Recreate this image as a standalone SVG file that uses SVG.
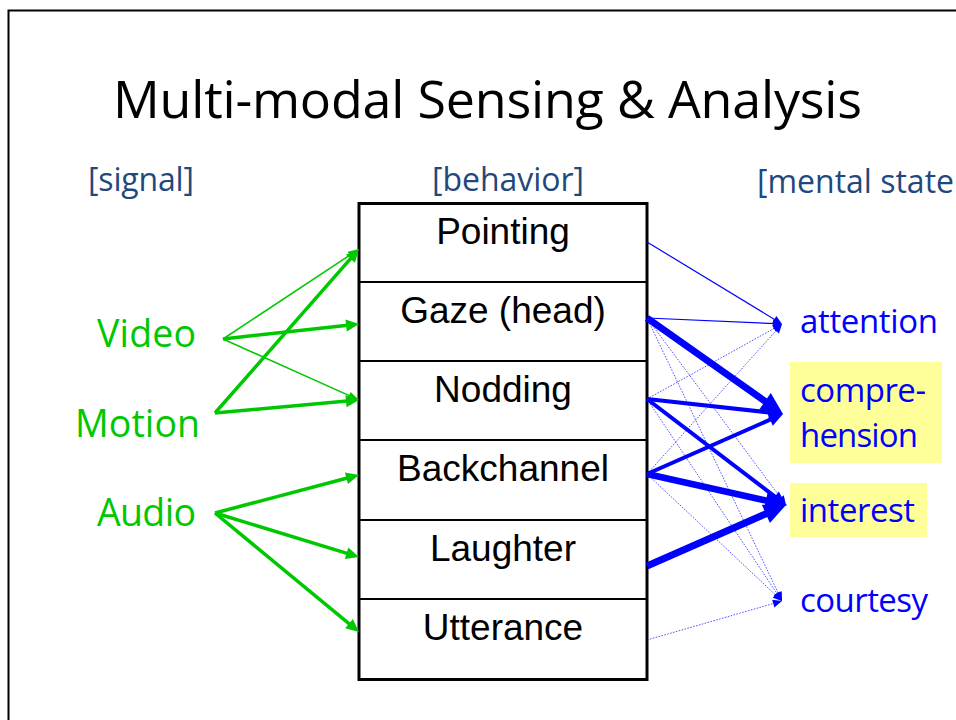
<svg xmlns="http://www.w3.org/2000/svg" width="956" height="720" viewBox="0 0 956 720">
  <defs>
    <style>
      .frame { fill: none; stroke: #000; stroke-width: 2; }
      .box { fill: #fff; stroke: #000; stroke-width: 3; }
      .divider { stroke: #000; stroke-width: 2; }
      .beh { font-family: "Liberation Sans", Arial, sans-serif; font-size: 37px; fill: #000; text-anchor: middle; }
      .cal { font-family: "Open Sans", "Noto Sans", sans-serif; font-variant-ligatures: none; }
      .title { font-size: 52px; fill: #000; }
      .head { font-size: 32px; fill: #1f497d; }
      .sig { font-size: 37.5px; fill: #00c800; }
      .state { font-size: 33px; fill: #0000ff; }
      .hl { fill: #ffff99; }
      .g { stroke: #00c800; fill: none; }
      .g-thin { stroke-width: 1.5; marker-end: url(#gs); }
      .g-thick { stroke-width: 3.5; marker-end: url(#gm); }
      .b { stroke: #0000ff; fill: none; }
      .b-dot { stroke-width: 0.9; stroke-dasharray: 1.6 1.4; stroke-opacity: 0.75; marker-end: url(#bs); }
      .b-thin { stroke-width: 1.2; marker-end: url(#bs); }
      .b-mid { stroke-width: 4; marker-end: url(#bm); }
      .b-big { stroke-width: 6.5; marker-end: url(#bl); }
      .b-huge { stroke-width: 7; marker-end: url(#bl); }
    </style>
    <!-- arrowheads: the tip sits 0.7*length past the end of the line -->
    <marker id="gs" markerUnits="userSpaceOnUse" markerWidth="11" markerHeight="8" refX="3.3" refY="4" orient="auto" overflow="visible">
      <path d="M0,0 L11,4 L0,8 z" fill="#00c800"/>
    </marker>
    <marker id="gm" markerUnits="userSpaceOnUse" markerWidth="13" markerHeight="12" refX="3.9" refY="6" orient="auto" overflow="visible">
      <path d="M0,0 L13,6 L0,12 z" fill="#00c800"/>
    </marker>
    <marker id="bs" markerUnits="userSpaceOnUse" markerWidth="9" markerHeight="8" refX="2.7" refY="4" orient="auto" overflow="visible">
      <path d="M0,0 L9,4 L0,8 z" fill="#0000ff"/>
    </marker>
    <marker id="bm" markerUnits="userSpaceOnUse" markerWidth="14" markerHeight="13" refX="4.2" refY="6.5" orient="auto" overflow="visible">
      <path d="M0,0 L14,6.5 L0,13 z" fill="#0000ff"/>
    </marker>
    <marker id="bl" markerUnits="userSpaceOnUse" markerWidth="22" markerHeight="20" refX="6.6" refY="10" orient="auto" overflow="visible">
      <path d="M0,0 L22,10 L0,20 z" fill="#0000ff"/>
    </marker>
  </defs>

  <rect width="956" height="720" fill="#fff"/>
  <rect class="frame" x="8.5" y="10.5" width="960" height="720"/>

  <text class="cal title" x="113" y="118" textLength="749">Multi-modal Sensing &amp; Analysis</text>

  <text class="cal head" x="88" y="191" textLength="106">[signal]</text>
  <text class="cal head" x="432" y="191" textLength="152">[behavior]</text>
  <text class="cal head" x="757" y="193" textLength="197">[mental state</text>

  <!-- signals -->
  <g id="sig-video"><text class="cal sig" x="97" y="347" textLength="99">Video</text></g>
  <g id="sig-motion"><text class="cal sig" x="75" y="437" textLength="125">Motion</text></g>
  <g id="sig-audio"><text class="cal sig" x="97" y="526" textLength="99">Audio</text></g>

  <!-- behavior table -->
  <g id="behaviors">
    <rect class="box" x="359" y="203.5" width="288" height="476"/>
    <line class="divider" x1="359" y1="282" x2="647" y2="282"/>
    <line class="divider" x1="359" y1="361" x2="647" y2="361"/>
    <line class="divider" x1="359" y1="440" x2="647" y2="440"/>
    <line class="divider" x1="359" y1="520" x2="647" y2="520"/>
    <line class="divider" x1="359" y1="599" x2="647" y2="599"/>
    <g id="beh-pointing"><text class="beh" x="503" y="244">Pointing</text></g>
    <g id="beh-gaze"><text class="beh" x="503" y="323">Gaze (head)</text></g>
    <g id="beh-nodding"><text class="beh" x="503" y="402">Nodding</text></g>
    <g id="beh-backchannel"><text class="beh" x="503" y="481">Backchannel</text></g>
    <g id="beh-laughter"><text class="beh" x="503" y="561">Laughter</text></g>
    <g id="beh-utterance"><text class="beh" x="503" y="640">Utterance</text></g>
  </g>

  <!-- mental states -->
  <g id="st-attention"><text class="cal state" x="800" y="333" textLength="138">attention</text></g>
  <g id="st-comprehension">
    <rect class="hl" x="790" y="362" width="152" height="101"/>
    <text class="cal state" x="800" y="402" textLength="126">compre-</text>
    <text class="cal state" x="800" y="447" textLength="118">hension</text>
  </g>
  <g id="st-interest">
    <rect class="hl" x="790" y="483" width="137" height="54"/>
    <text class="cal state" x="800" y="522" textLength="115">interest</text>
  </g>
  <g id="st-courtesy"><text class="cal state" x="800" y="612" textLength="128">courtesy</text></g>

  <g id="connectors">
    <!-- signal to behavior -->
    <line class="g g-thin" x1="223" y1="339" x2="352.6" y2="253.3"/>
    <line class="g g-thick" x1="223" y1="339" x2="350" y2="325"/>
    <line class="g g-thin" x1="223" y1="339" x2="352" y2="396.9"/>
    <line class="g g-thick" x1="215" y1="413" x2="353" y2="255.8"/>
    <line class="g g-thick" x1="215" y1="413" x2="349.9" y2="400.8"/>
    <line class="g g-thick" x1="215" y1="513" x2="350.2" y2="477.3"/>
    <line class="g g-thick" x1="215" y1="513" x2="350.3" y2="554.3"/>
    <line class="g g-thick" x1="215" y1="513" x2="352" y2="626.2"/>

    <!-- behavior to mental state: weak links -->
    <line class="b b-thin" x1="647" y1="242" x2="776.6" y2="320.7"/>
    <line class="b b-thin" x1="647" y1="318" x2="775.7" y2="323.7"/>
    <line class="b b-dot" x1="647" y1="399" x2="776.5" y2="327.1"/>
    <line class="b b-dot" x1="647" y1="474" x2="777.8" y2="328.7"/>
    <line class="b b-dot" x1="647" y1="318" x2="782.2" y2="499.9"/>
    <line class="b b-dot" x1="647" y1="318" x2="779.3" y2="595.3"/>
    <line class="b b-dot" x1="647" y1="399" x2="778.5" y2="595.8"/>
    <line class="b b-dot" x1="647" y1="474" x2="777.4" y2="596.7"/>
    <line class="b b-dot" x1="647" y1="640" x2="775.9" y2="602.8"/>

    <!-- behavior to mental state: strong links -->
    <line class="b b-mid" x1="647" y1="399" x2="773.3" y2="412.9"/>
    <line class="b b-mid" x1="647" y1="474" x2="774" y2="418"/>
    <line class="b b-mid" x1="647" y1="399" x2="778.2" y2="499.1"/>
    <line class="b b-big" x1="647" y1="474" x2="772.3" y2="501.9"/>
    <line class="b b-huge" x1="647" y1="318" x2="770.4" y2="405.1"/>
    <line class="b b-huge" x1="647" y1="566" x2="771.9" y2="511.2"/>
  </g>
</svg>
